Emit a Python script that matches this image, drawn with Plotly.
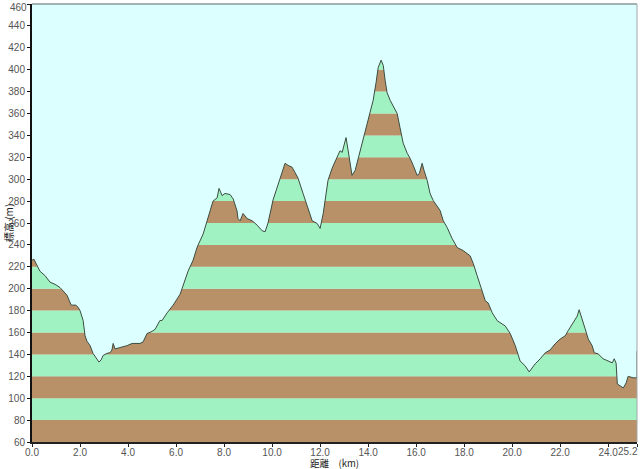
import plotly.graph_objects as go

# Elevation profile (distance km, elevation m)
dist = [0.0, 0.08, 0.33, 0.54, 0.75, 0.96, 1.17, 1.46, 1.63, 1.83, 1.92, 2.0, 2.13, 2.21, 2.29, 2.42,
        2.54, 2.71, 2.79, 2.88, 2.96, 3.13, 3.25, 3.33, 3.38, 3.46, 3.67, 3.96, 4.17, 4.5, 4.63, 4.79,
        5.0, 5.13, 5.33, 5.42, 5.63, 5.88, 6.17, 6.29, 6.5, 6.71, 6.88, 7.13, 7.42, 7.54, 7.71, 7.79,
        7.92, 8.04, 8.25, 8.38, 8.54, 8.58, 8.67, 8.79, 8.96, 9.17, 9.38, 9.58, 9.71, 9.83, 10.04,
        10.25, 10.42, 10.54, 10.67, 10.83, 10.96, 11.08, 11.29, 11.5, 11.67, 11.88, 12.0, 12.13, 12.33,
        12.5, 12.71, 12.83, 12.92, 13.08, 13.17, 13.33, 13.46, 13.67, 13.88, 14.08, 14.21, 14.33, 14.42,
        14.54, 14.63, 14.71, 14.79, 14.92, 15.04, 15.21, 15.33, 15.46, 15.63, 15.75, 15.88, 16.04,
        16.13, 16.25, 16.33, 16.46, 16.58, 16.71, 17.0, 17.13, 17.29, 17.5, 17.71, 17.96, 18.25, 18.38,
        18.54, 18.75, 18.88, 19.0, 19.17, 19.38, 19.58, 19.71, 19.92, 20.13, 20.33, 20.54, 20.71, 20.83,
        20.96, 21.17, 21.38, 21.58, 21.79, 22.0, 22.21, 22.33, 22.54, 22.71, 22.79, 22.92, 23.04, 23.17,
        23.33, 23.42, 23.58, 23.79, 24.0, 24.17, 24.25, 24.33, 24.38, 24.5, 24.63, 24.75, 24.83, 25.04,
        25.2, 25.2]
elev = [226, 227, 216, 212, 206, 204, 201, 194, 185, 185, 183, 180, 171, 157, 152, 148,
        141, 136, 133, 135, 139, 141, 141.5, 144, 150, 145, 146, 148, 150, 150, 151.5, 159,
        161, 163, 171, 171, 178, 185, 195, 203, 216, 226, 238, 250, 270, 280, 283, 291.6,
        285, 287, 286, 282, 271, 264, 262, 268.7, 264, 262, 258, 253, 252, 260, 281,
        296, 308, 314.5, 312.6, 311, 306, 301, 287, 273, 262, 259.5, 255, 268.7, 299,
        310, 320, 326, 324.5, 338, 326, 303.5, 308, 326, 345, 361, 372, 388, 402,
        408.7, 404, 390, 379, 372, 367.5, 360, 347, 333, 323.6, 319, 312.6, 303.5,
        305, 314.5, 308, 299, 287, 280.6, 271.4, 262, 256, 245.8, 237.6, 234.8, 230, 223,
        212, 198, 189, 187, 178, 170.7, 168, 166, 159, 148, 134, 129.6, 124, 127.7,
        131.4, 136, 141.5, 144, 149.7, 154, 157, 161.6, 169, 175, 180.8, 172.6, 163.4, 154,
        148, 141.5, 140.5, 136, 134, 132.3, 136, 132, 113, 111, 109.4, 114, 120, 118.6,
        118.6, 143]

y_ticks = [60, 80, 100, 120, 140, 160, 180, 200, 220, 240, 260, 280, 300, 320, 340, 360, 380, 400, 420, 440, 460]
y_ticktext = ["60", "80", "100", "120", "140", "160", "180", "200", "220", "240", "260", "280", "300",
              "320", "340", "360", "380", "400", "420", "440", ""]
x_tickvals = [0, 2, 4, 6, 8, 10, 12, 14, 16, 18, 20, 22, 24, 25.2]
x_ticktext = ["0.0", "2.0", "4.0", "6.0", "8.0", "10.0", "12.0", "14.0", "16.0", "18.0", "20.0", "22.0", "24.0", ""]
end_x_label = "25.2"
top_y_label = "460"

BROWN = "#B99169"
GREEN = "#A0F2C2"
SKY = "#DCFFFF"
LINE = "#3C4C40"

x_max = 25.2
y_top = 460

shapes = []
for i in range(len(y_ticks) - 1):
    shapes.append(dict(type="rect", xref="x", yref="y", x0=0, x1=x_max,
                       y0=y_ticks[i], y1=y_ticks[i + 1],
                       fillcolor=BROWN if i % 2 == 0 else GREEN,
                       line=dict(width=0), layer="below"))
# top and right frame
shapes.append(dict(type="line", xref="paper", yref="paper", x0=0, x1=1, y0=1, y1=1,
                   line=dict(color="#8A9A9A", width=1.5)))
shapes.append(dict(type="line", xref="paper", yref="paper", x0=1, x1=1, y0=0, y1=1,
                   line=dict(color="#A0A8A8", width=1)))

fig = go.Figure()
fig.add_trace(go.Scatter(x=dist, y=[y_top] * len(dist), mode="lines",
                         line=dict(width=0, color=SKY), hoverinfo="skip", showlegend=False))
fig.add_trace(go.Scatter(x=dist, y=elev, mode="lines", fill="tonexty", fillcolor=SKY,
                         line=dict(color=LINE, width=1), showlegend=False))

font_family = "Liberation Sans, Arial, sans-serif"
tick_font = dict(family=font_family, size=10, color="#555")
fig.update_layout(
    width=640, height=469,
    margin=dict(l=32, r=3, t=4, b=27),
    paper_bgcolor="white",
    plot_bgcolor=SKY,
    shapes=shapes,
    showlegend=False,
    xaxis=dict(range=[0, x_max], tickvals=x_tickvals, ticktext=x_ticktext,
               automargin=False, ticklabelstandoff=-3,
               showgrid=False, zeroline=False, showline=True, linecolor="#222",
               linewidth=2, ticks="outside", ticklen=3, tickcolor="#222",
               tickfont=tick_font),
    yaxis=dict(range=[60, 460], tickvals=y_ticks, ticktext=y_ticktext,
               showgrid=False, zeroline=False,
               automargin=False,
               showline=True, linecolor="#111", linewidth=2, ticks="outside",
               ticklen=3, tickcolor="#111",
               tickfont=tick_font),
    annotations=[
        dict(text="距離　(km)", xref="paper", yref="paper", x=0.5, y=0, yshift=-20.5,
             showarrow=False, xanchor="center", yanchor="middle",
             font=dict(family="Noto Sans CJK JP, sans-serif", size=9.5, color="#222")),
        dict(text="標高 (m)", xref="paper", yref="paper", x=0, y=0.5, xshift=-24,
             showarrow=False, xanchor="center", yanchor="middle", textangle=-90,
             font=dict(family="Noto Sans CJK JP, sans-serif", size=10, color="#222")),
        dict(text=end_x_label, xref="x", yref="paper", x=x_max, y=0, yshift=-3, xshift=1.5,
             showarrow=False, xanchor="right", yanchor="top", font=tick_font,
             borderpad=0),
        dict(text=top_y_label, xref="paper", yref="y", x=0, y=y_top, xshift=-4, yshift=3,
             showarrow=False, xanchor="right", yanchor="top", font=tick_font,
             borderpad=0),
    ],
)

fig.write_html("out.html", config={"displayModeBar": False},
               post_script="document.body.style.margin='0px';document.body.style.overflow='hidden';")
